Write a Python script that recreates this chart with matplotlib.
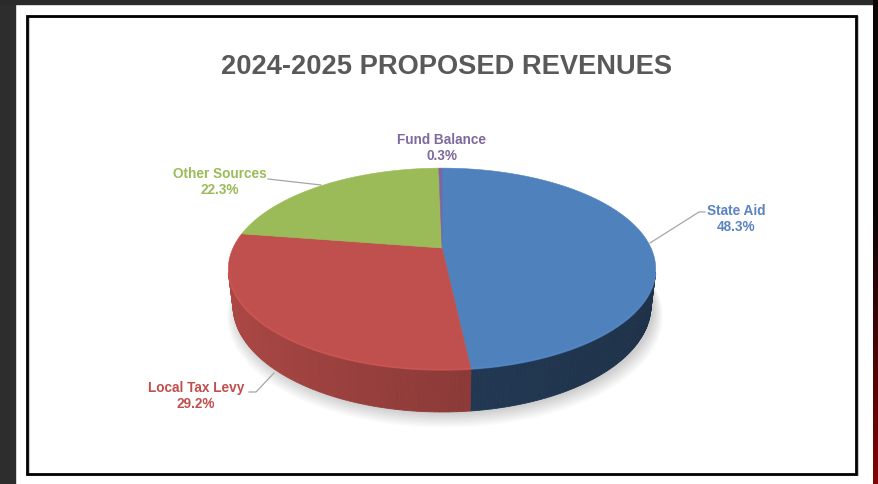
import numpy as np
import matplotlib
matplotlib.use("Agg")
import matplotlib.pyplot as plt
from matplotlib.patches import Polygon, Rectangle
from matplotlib.colors import to_rgb

plt.rcParams['font.family'] = ['Liberation Sans', 'DejaVu Sans']

title = "2024-2025 PROPOSED REVENUES"
categories = ["State Aid", "Local Tax Levy", "Other Sources", "Fund Balance"]
values = [48.3, 29.2, 22.3, 0.3]
colors = ["#4f81bd", "#c0504d", "#9bbb59", "#8064a2"]
label_colors = ["#5a84c2", "#c0504d", "#9bbb59", "#7d6a9e"]
# side shading (factor at left end, factor at right end of front arc)
side_shade = [(0.50, 0.38), (0.90, 0.58), (0.85, 0.60), (0.6, 0.5)]

W, H = 879, 484
fig = plt.figure(figsize=(W / 100, H / 100), dpi=100)
ax = fig.add_axes([0, 0, 1, 1])
ax.set_xlim(0, W)
ax.set_ylim(H, 0)
ax.axis('off')

# background frame
fig.patch.set_facecolor('white')
ax.add_patch(Rectangle((0, 0), 15, H, color='#2e2d2d', zorder=0))
ax.add_patch(Rectangle((0, 0), W, 4, color='#2b2a2a', zorder=0))
n = 60
for i in range(n):
    t = i / (n - 1)
    col = (0.05 + 0.45 * max(0, (t - 0.45) / 0.55), 0.02, 0.02)
    ax.add_patch(Rectangle((873, H * i / n), 6, H / n + 1, color=col, lw=0, zorder=0))
ax.add_patch(Rectangle((29, 17), 829, 458, fill=False, ec='#c8c8c8', lw=1.5, zorder=1))
ax.add_patch(Rectangle((27.5, 15.5), 829, 458, fill=False, ec='black', lw=2.0, zorder=2))

ax.text(447, 67, title, ha='center', va='center', fontsize=19.6, fontweight='bold',
        color='#595959', zorder=5)

# perspective 3D pie geometry (radius = 1 units, screen pixels out)
cx0, cy0 = 442, 248
alpha = np.radians(27.5)
Dist = 4.264
foc = 209 * Dist
h = 0.199

def proj(theta_deg, Y=0.0):
    t = np.radians(theta_deg)
    X, Z = np.cos(t), np.sin(t)
    depth = Dist - Y * np.sin(alpha) + Z * np.cos(alpha)
    up = Y * np.cos(alpha) + Z * np.sin(alpha)
    return cx0 + foc * X / depth, cy0 - foc * up / depth

def shade(c, f):
    r, g, bb = to_rgb(c)
    return (min(1, r * f), min(1, g * f), min(1, bb * f))

# soft shadow
thf = np.linspace(0, 360, 361)
for k in range(8):
    sx, sy = proj(thf, -h)
    sc = 1.0 + 0.006 * k
    mx, my = sx.mean(), sy.mean()
    xs = mx + (sx - mx) * sc + 3
    ys = my + (sy - my) * sc + 2 + 1.2 * k
    ax.add_patch(Polygon(list(zip(xs, ys)), closed=True, fc='black', alpha=0.025,
                         lw=0, zorder=2))

total = sum(values)
start = 90.0
ranges = []
for v in values:
    span = 360.0 * v / total
    ranges.append((start - span, start))
    start -= span

vis_lim = -1.0 / (Dist * np.cos(alpha)) + 0.02

# sides (strips sorted far to near)
strips = []
for (t0, t1), c, (fl, fr) in zip(ranges, colors, side_shade):
    th = np.linspace(t0, t1, max(4, int((t1 - t0) / 1.0) + 2))
    for i in range(len(th) - 1):
        ta, tb = th[i], th[i + 1]
        mid = np.radians((ta + tb) / 2)
        if np.sin(mid) >= vis_lim:
            continue
        f = fl + (fr - fl) * (np.cos(mid) + 1) / 2
        pa, pb = proj(ta), proj(tb)
        qa, qb = proj(ta, -h), proj(tb, -h)
        strips.append((np.sin(mid), [pa, pb, qb, qa], shade(c, f)))
strips.sort(key=lambda s: -s[0])
for _, verts, col in strips:
    ax.add_patch(Polygon(verts, closed=True, fc=col, ec=col, lw=0.6, zorder=3))

# top faces
cpt = proj(0.0)
center = (cx0, cy0)
for (t0, t1), c in zip(ranges, colors):
    th = np.linspace(t0, t1, max(3, int((t1 - t0) * 2) + 2))
    xs, ys = proj(th)
    verts = [center] + list(zip(xs, ys))
    ax.add_patch(Polygon(verts, closed=True, fc=c, ec=c, lw=0.4, zorder=4))
    front = np.sin(np.radians(th)) < vis_lim
    if front.any():
        ax.plot(xs[front], ys[front], color=shade(c, 1.12), lw=1.3, alpha=0.55,
                zorder=4.5, solid_capstyle='butt')

# labels
label_pos = [(736, 219), (196, 396), (220, 182), (442, 148)]
leaders = [[(705, 212), (699, 212), (650, 243)],
           [(249, 392), (256, 392), (274, 373)],
           [(268, 179), (321, 185)],
           None]
for name, v, (lx, ly), lc, ld in zip(categories, values, label_pos, label_colors, leaders):
    ax.text(lx, ly, f"{name}\n{v:.1f}%", ha='center', va='center', fontsize=9.8,
            fontweight='bold', color=lc, linespacing=1.15, zorder=6)
    if ld:
        xs, ys = zip(*ld)
        ax.plot(xs, ys, color='#a6a6a6', lw=0.9, zorder=6)

fig.savefig("out.png", dpi=100, facecolor='white')
